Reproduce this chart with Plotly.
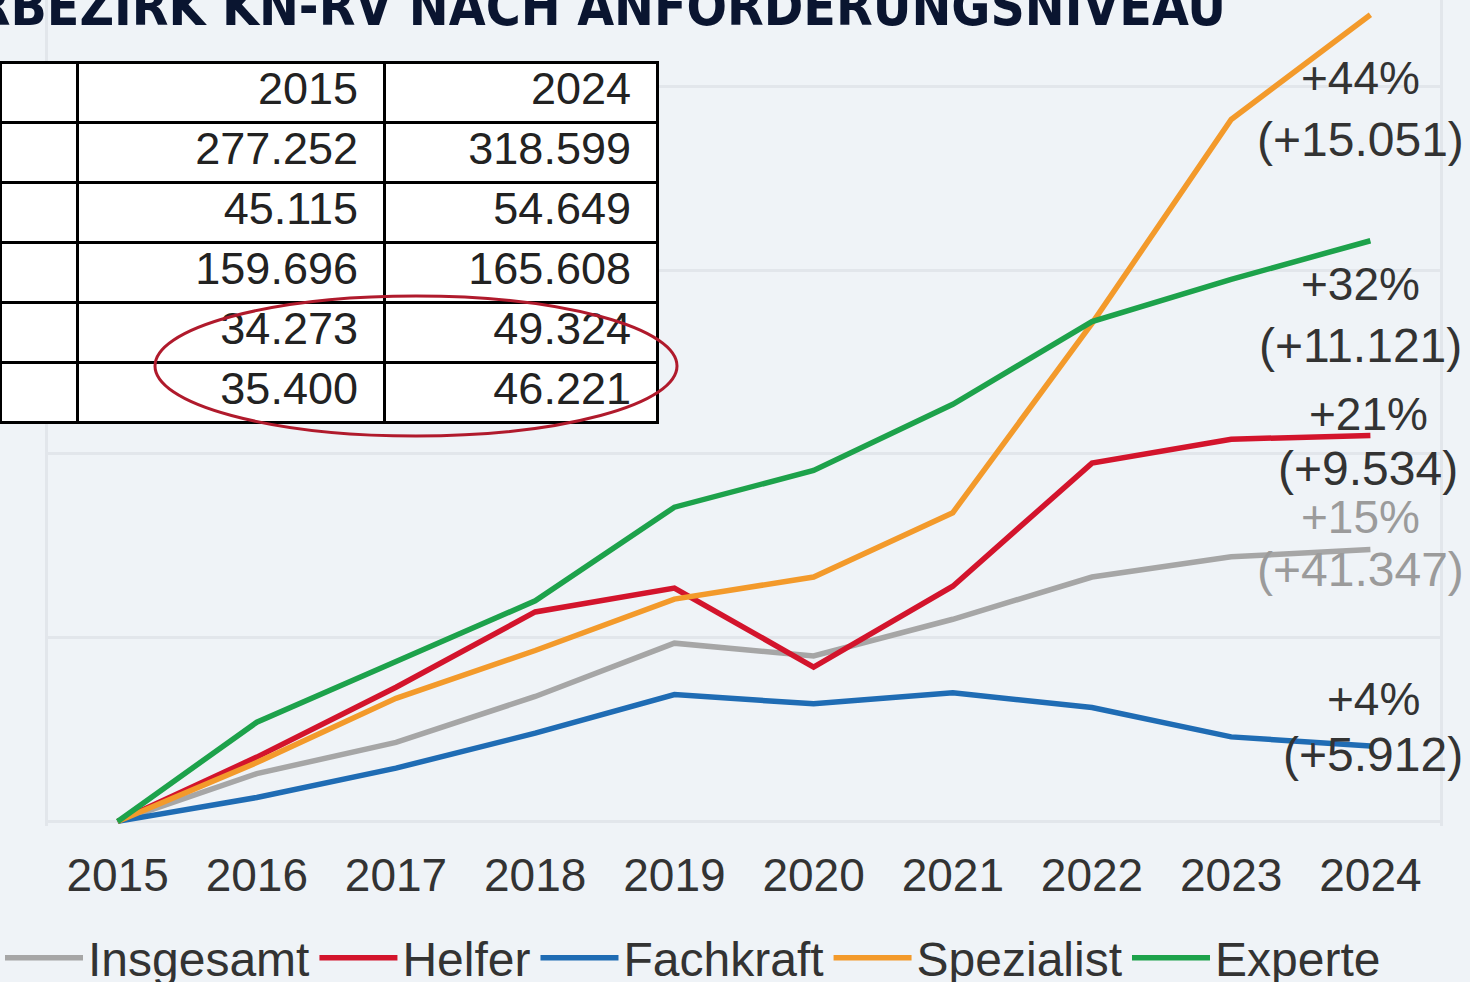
import plotly.graph_objects as go

W, H = 1470, 982

years = [2015, 2016, 2017, 2018, 2019, 2020, 2021, 2022, 2023, 2024]
insgesamt = [0, 2.6, 4.3, 6.8, 9.7, 9.0, 11.0, 13.3, 14.4, 14.8]
helfer = [0, 3.5, 7.3, 11.4, 12.7, 8.4, 12.8, 19.5, 20.8, 21.0]
fachkraft = [0, 1.3, 2.9, 4.8, 6.9, 6.4, 7.0, 6.2, 4.6, 4.1]
spezialist = [0, 3.2, 6.7, 9.3, 12.1, 13.3, 16.8, 27.1, 38.2, 43.9]
experte = [0, 5.4, 8.7, 12.0, 17.1, 19.1, 22.7, 27.2, 29.5, 31.6]

series_names = ["Insgesamt", "Helfer", "Fachkraft", "Spezialist", "Experte"]
series_values = [insgesamt, helfer, fachkraft, spezialist, experte]
series_colors = ["#a6a6a6", "#d3142c", "#1f6cb4", "#f39a2b", "#1da24b"]

pct_labels = ["+15%", "+21%", "+4%", "+44%", "+32%"]
abs_labels = ["(+41.347)", "(+9.534)", "(+5.912)", "(+15.051)", "(+11.121)"]
label_colors = ["#9b9b9b", "#333333", "#333333", "#333333", "#333333"]
pct_shift = [32, 22, 47, -63, -43]
abs_shift = [-20, -33, -8, -125, -105]
label_xshift = [-10, -2, 3, -10, -10]

table_header = ["", "2015", "2024"]
table_labels = ["", "", "", "", ""]
table_2015 = ["277.252", "45.115", "159.696", "34.273", "35.400"]
table_2024 = ["318.599", "54.649", "165.608", "49.324", "46.221"]

title_text = "AGENTURBEZIRK KN-RV NACH ANFORDERUNGSNIVEAU"

BG = "#eff3f7"
GRID = "#e2e6eb"
FONT = "Liberation Sans, Arial, sans-serif"
PAD = "\u2009\u2009"


def px(x):
    return x / W


def py(y):
    return 1 - y / H


fig = go.Figure()

for name, vals, col in zip(series_names, series_values, series_colors):
    fig.add_trace(go.Scatter(
        x=years, y=vals, name=name, mode="lines",
        line=dict(color=col, width=5.5),
    ))

fig.add_trace(go.Table(
    domain=dict(x=[0, px(657)], y=[py(428), py(62)]),
    columnwidth=[77, 307, 273],
    header=dict(values=[v + PAD for v in table_header], height=60, align="right",
                fill_color="white", line=dict(color="black", width=3),
                font=dict(family=FONT, size=45, color="#222222")),
    cells=dict(values=[table_labels,
                       [v + PAD for v in table_2015],
                       [v + PAD for v in table_2024]],
               height=60, align="right",
               fill_color="white", line=dict(color="black", width=3),
               font=dict(family=FONT, size=45, color="#222222")),
))

annotations = []
for i, vals in enumerate(series_values):
    annotations.append(dict(x=years[-1], y=vals[-1], xref="x", yref="y", text=pct_labels[i],
                            showarrow=False, xanchor="center", yanchor="middle",
                            xshift=label_xshift[i], yshift=pct_shift[i],
                            font=dict(family=FONT, size=46, color=label_colors[i])))
    annotations.append(dict(x=years[-1], y=vals[-1], xref="x", yref="y", text=abs_labels[i],
                            showarrow=False, xanchor="center", yanchor="middle",
                            xshift=label_xshift[i], yshift=abs_shift[i],
                            font=dict(family=FONT, size=48, color=label_colors[i])))

annotations.append(dict(x=px(1228), y=py(7), xref="paper", yref="paper", text="<b>" + title_text + "</b>",
                        showarrow=False, xanchor="right", yanchor="middle",
                        font=dict(family="Liberation Sans Narrow, DejaVu Sans Condensed, sans-serif",
                                  size=53, color="#0a1530")))

fig.update_layout(
    width=W, height=H,
    margin=dict(l=0, r=0, t=0, b=0, autoexpand=False),
    paper_bgcolor=BG, plot_bgcolor=BG,
    showlegend=True,
    legend=dict(orientation="h", x=0, y=py(958), xanchor="left", yanchor="middle",
                font=dict(family=FONT, size=48, color="#333333"),
                bgcolor="rgba(0,0,0,0)", itemwidth=78, tracegroupgap=0),
    annotations=annotations,
    shapes=[dict(type="circle", xref="paper", yref="paper",
                 x0=px(155), x1=px(677), y0=py(436), y1=py(296),
                 line=dict(color="#b01a2c", width=3), layer="above")],
)

fig.update_xaxes(domain=[px(48), px(1440)], range=[2014.5, 2024.5], tickmode="array",
                 tickvals=years, ticktext=[str(y) for y in years], showgrid=False,
                 zeroline=False, showline=False, ticks="outside", ticklen=9,
                 tickcolor="rgba(0,0,0,0)", automargin=False,
                 tickfont=dict(family=FONT, size=46, color="#333333"))
fig.update_yaxes(domain=[py(826), 1], range=[-0.25, 44.7], showticklabels=False,
                 tickvals=[0, 10, 20, 30, 40], showgrid=True, gridcolor=GRID, gridwidth=3,
                 zeroline=False, showline=True, mirror=True, linecolor=GRID, linewidth=3,
                 automargin=False)

fig.write_html("out.html", config={"displayModeBar": False},
               post_script="document.body.style.margin='0';document.body.style.overflow='hidden';")
